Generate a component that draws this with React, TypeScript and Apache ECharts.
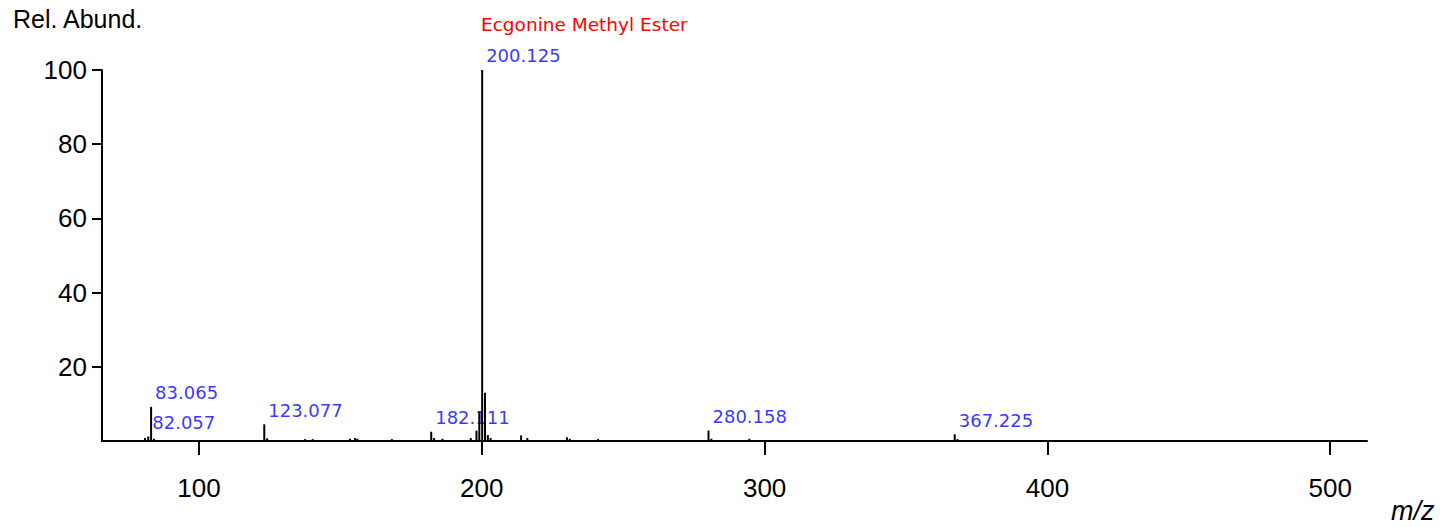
import React, { useEffect, useRef } from "react";
import * as echarts from "echarts";

// Peak list (m/z, relative abundance %)
const peakMz = [
  80.9, 82.057, 83.065, 84.07, 123.077, 124.08, 137.5, 140.2, 153.4, 155.2, 156.0,
  168.2, 182.111, 183.11, 186.1, 196.1, 198.11, 199.11, 200.125, 201.13, 202.13,
  203.1, 213.9, 216.1, 230.1, 231.1, 241.1, 280.158, 281.16, 294.6, 367.225, 368.23,
];
const peakAbund = [
  0.8, 1.2, 9.2, 0.6, 4.5, 0.7, 0.5, 0.5, 0.6, 0.8, 0.6,
  0.5, 2.5, 0.8, 0.6, 0.8, 2.8, 8.0, 100, 13.0, 1.6,
  0.8, 1.5, 0.8, 1.0, 0.6, 0.5, 2.8, 0.6, 0.6, 1.8, 0.5,
];

// Annotated peaks
const labelMz = [82.057, 83.065, 123.077, 182.111, 200.125, 280.158, 367.225];
const labelAbund = [1.2, 9.2, 4.5, 2.5, 100, 2.8, 1.8];
const labelText = ["82.057", "83.065", "123.077", "182.111", "200.125", "280.158", "367.225"];

const xTicks = [100, 200, 300, 400, 500];
const yTicks = [20, 40, 60, 80, 100];

const compoundName = "Ecgonine Methyl Ester";

export default function App() {
  const ref = useRef<HTMLDivElement>(null);
  useEffect(() => {
    if (!ref.current) return;
    const chart = echarts.init(ref.current, null, { renderer: "svg" });
    const axisFont = { fontFamily: "Liberation Sans", fontSize: 26, color: "#000" };
    chart.setOption({
      animation: false,
      backgroundColor: "#fff",
      grid: { left: 102, right: 79, top: 70, bottom: 86, containLabel: false },
      xAxis: {
        type: "value",
        min: 65.7,
        max: 513,
        splitLine: { show: false },
        axisLine: { show: true, onZero: false, lineStyle: { color: "#000", width: 2 } },
        axisTick: {
          show: true,
          length: 14,
          lineStyle: { color: "#000", width: 2 },
          customValues: xTicks,
        },
        axisLabel: { ...axisFont, margin: 34, customValues: xTicks },
      },
      yAxis: {
        type: "value",
        min: 0,
        max: 100,
        splitLine: { show: false },
        axisLine: { show: true, lineStyle: { color: "#000", width: 2 } },
        axisTick: {
          show: true,
          length: 10,
          lineStyle: { color: "#000", width: 2 },
          customValues: yTicks,
        },
        axisLabel: { ...axisFont, margin: 15, customValues: yTicks },
      },
      graphic: [
        {
          type: "text",
          left: 13,
          top: 6,
          style: { text: "Rel. Abund.", font: "25px 'Liberation Sans'", fill: "#000" },
        },
        {
          type: "text",
          left: 1391,
          top: 497,
          style: { text: "m/z", font: "italic 27px 'Liberation Sans'", fill: "#000" },
        },
        {
          type: "text",
          left: 481,
          top: 15,
          style: { text: compoundName, font: "18.5px 'DejaVu Sans'", fill: "#ff0000" },
        },
      ],
      series: [
        {
          type: "scatter",
          z: 1,
          symbolSize: 0.01,
          data: labelMz.map((m, i) => [m, labelAbund[i], labelText[i]]),
          label: {
            show: true,
            formatter: (p: any) => p.data[2],
            position: [4, -5],
            align: "left",
            verticalAlign: "bottom",
            color: "#0000ff",
            fontFamily: "DejaVu Sans",
            fontSize: 18,
          },
        },
        {
          type: "bar",
          z: 3,
          barWidth: 2,
          itemStyle: { color: "#000" },
          data: peakMz.map((m, i) => [m, peakAbund[i]]),
        },
      ],
    });
    return () => chart.dispose();
  }, []);
  return (
    <div
      ref={ref}
      style={{ position: "fixed", left: 0, top: 0, width: 1446, height: 527, background: "#fff" }}
    />
  );
}
